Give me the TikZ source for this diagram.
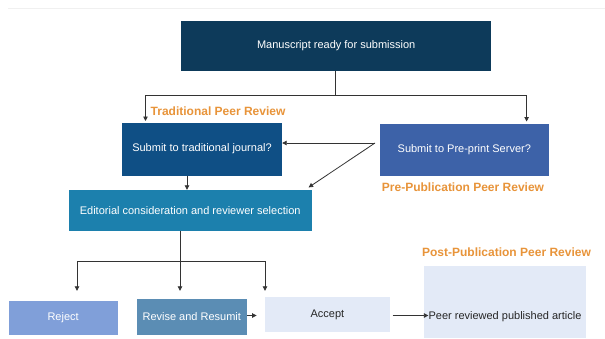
\documentclass[tikz,border=0pt]{standalone}
\usepackage{fontspec}
\setmainfont{Liberation Sans}
\usetikzlibrary{arrows.meta}

\definecolor{navy}{HTML}{0D3A5A}
\definecolor{tradblue}{HTML}{0F4F85}
\definecolor{preblue}{HTML}{3D62A8}
\definecolor{editblue}{HTML}{1C80AD}
\definecolor{rejectblue}{HTML}{809FD9}
\definecolor{reviseblue}{HTML}{5B8DB4}
\definecolor{paleblue}{HTML}{E3EAF7}
\definecolor{labelorange}{HTML}{E8943A}
\definecolor{linegray}{HTML}{333333}

\tikzset{
  box/.style={rectangle, inner sep=0pt, text=white, font=\fontsize{11}{13}\selectfont},
  palebox/.style={box, fill=paleblue, text=black!85},
  phase/.style={text=labelorange, inner sep=0pt, font=\bfseries\fontsize{12}{14}\selectfont},
  link/.style={draw=linegray, line width=0.8pt},
  arr/.style={link, -{Triangle[length=4.5pt,width=4.5pt]}},
}

\begin{document}
\begin{tikzpicture}[x=1pt,y=-1pt]
  \useasboundingbox (0,0) rectangle (605,338);
  \fill[white] (0,0) rectangle (605,338);
  \draw[gray!12, line width=0.6pt] (8,8.5) -- (605,8.5);

  % boxes
  \node[box, fill=navy, minimum width=310.5pt, minimum height=50pt] (ms) at (336.2,46) {Manuscript ready for submission};
  \node[box, fill=tradblue, minimum width=160pt, minimum height=53pt] (trad) at (202,149) {Submit to traditional journal?};
  \node[box, fill=preblue, minimum width=168.6pt, minimum height=52pt] (pre) at (464.3,149.5) {Submit to Pre-print Server?};
  \node[box, fill=editblue, minimum width=243pt, minimum height=40.6pt] (edit) at (190.2,210.3) {Editorial consideration and reviewer selection};
  \node[box, fill=rejectblue, minimum width=109.2pt, minimum height=33.7pt] (reject) at (63.1,317.9) {Reject};
  \node[box, fill=reviseblue, minimum width=110.4pt, minimum height=35.7pt] (revise) at (191.8,316.9) {Revise and Resumit};
  \node[palebox, minimum width=124.7pt, minimum height=34.7pt] (accept) at (327.4,314.7) {Accept};
  \node[palebox, minimum width=161.2pt, minimum height=72.3pt] (post) at (505,301.85) {};
  \node[palebox, fill=none] (posttext) at (505,316.6) {Peer reviewed published article};

  % phase labels
  \node[phase, anchor=west] (tpr) at (150.5,111) {Traditional Peer Review};
  \node[phase] (ppr) at (463,187) {Pre-Publication Peer Review};
  \node[phase] (popr) at (506.5,252) {Post-Publication Peer Review};

  % split below the manuscript box
  \coordinate (split) at (335.6,95);
  \coordinate (tradin) at (145.5,121);
  \coordinate (prein) at (526.6,121.5);
  \draw[link] (ms.south -| split) -- (split);
  \draw[arr] (split) -| (tradin);
  \draw[arr] (split) -| (prein);

  % pre-print server routes
  \coordinate (prefork) at (375,143);
  \draw[arr] (prefork) -- (trad.east |- prefork);
  \draw[arr] (prefork) -- (308.6,187.4);
  \draw[arr] (187,175.5) -- (edit.north -| 187,0);

  % decisions
  \coordinate (dsplit) at (180,261.4);
  \coordinate (drej) at (77,290.8);
  \coordinate (drev) at (180,290.8);
  \coordinate (dacc) at (265,290.8);
  \draw[link] (edit.south -| dsplit) -- (dsplit);
  \draw[arr] (dsplit) -- (drev);
  \draw[link] (drej |- dsplit) -- (dacc |- dsplit);
  \draw[arr] (drej |- dsplit) -- (drej);
  \draw[arr] (dacc |- dsplit) -- (dacc);

  \draw[arr] (revise.east |- 0,315.5) -- (256.6,315.5);
  \draw[arr] (392.7,315.5) -- (posttext.west |- 0,315.5);
\end{tikzpicture}
\end{document}
